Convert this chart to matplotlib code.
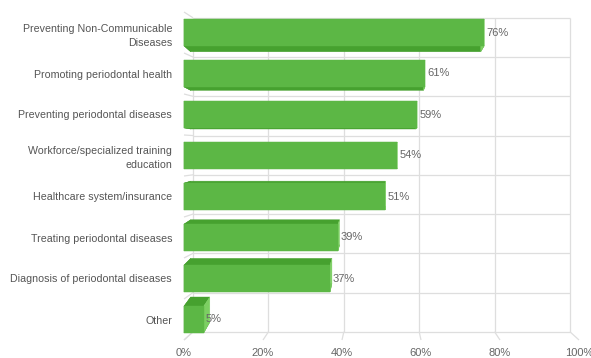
import matplotlib
matplotlib.use("Agg")
import matplotlib.pyplot as plt
from matplotlib.patches import Polygon

# Survey answers (share of respondents, %)
categories = [
    "Preventing Non-Communicable\nDiseases",
    "Promoting periodontal health",
    "Preventing periodontal diseases",
    "Workforce/specialized training\neducation",
    "Healthcare system/insurance",
    "Treating periodontal diseases",
    "Diagnosis of periodontal diseases",
    "Other",
]
values = [76, 61, 59, 54, 51, 39, 37, 5]
x_ticks = [0, 20, 40, 60, 80, 100]
x_tick_labels = ["0%", "20%", "40%", "60%", "80%", "100%"]

plt.rcParams["font.family"] = ["Liberation Sans", "DejaVu Sans"]

W, H, DPI = 591, 358, 100
fig = plt.figure(figsize=(W / DPI, H / DPI), dpi=DPI)
left_px, right_px, top_px, bottom_px = 184, 579, 12, 340
ax = fig.add_axes([left_px / W, (H - bottom_px) / H,
                   (right_px - left_px) / W, (bottom_px - top_px) / H])

n = len(categories)
y_lo, y_hi = -0.5, n - 0.5
ax.set_xlim(0, 100)
ax.set_ylim(y_hi, y_lo)

# simple perspective: points recede toward a vanishing point in data space
VP = (50.1, 2.82)


def project(x, y, kx, ky):
    return (x + kx * (VP[0] - x), y + ky * (VP[1] - y))


WALL = (0.046, 0.043)   # depth of the back wall
BAR = (0.034, 0.058)    # depth of the bars

grid_kw = dict(color="#dedede", lw=0.9, clip_on=False, zorder=1,
               solid_capstyle="butt")


def seg(p, q):
    ax.plot([p[0], q[0]], [p[1], q[1]], **grid_kw)


# back wall: vertical grid lines
for t in x_ticks:
    seg(project(t, y_lo, *WALL), project(t, y_hi, *WALL))
# back wall: horizontal category separators
for i in range(n + 1):
    yb = y_lo + i
    seg(project(0, yb, *WALL), project(100, yb, *WALL))
    # left side wall: receding lines
    seg((0, yb), project(0, yb, *WALL))
# floor: receding lines under each tick
for t in x_ticks:
    seg((t, y_hi), project(t, y_hi, *WALL))

# bars
front_c = "#5cb745"
dark_c = "#46a12f"
light_c = "#7ccf62"
half = 0.325
for i, v in enumerate(values):
    y0, y1 = i - half, i + half
    fl, fr = (0, y0), (v, y0)
    bl, br = (0, y1), (v, y1)
    bfl, bfr = project(0, y0, *BAR), project(v, y0, *BAR)
    bbl, bbr = project(0, y1, *BAR), project(v, y1, *BAR)
    faces = [
        ([fl, fr, bfr, bfl], dark_c),     # top
        ([bl, br, bbr, bbl], dark_c),     # bottom
        ([fr, br, bbr, bfr], light_c),    # right end
        ([fl, bl, bbl, bfl], dark_c),     # left end
    ]
    for pts, c in faces:
        ax.add_patch(Polygon(pts, closed=True, facecolor=c, edgecolor=c,
                             lw=0.3, zorder=3, clip_on=False))
    ax.add_patch(Polygon([fl, fr, br, bl], closed=True, facecolor=front_c,
                         edgecolor=front_c, lw=0.3, zorder=4, clip_on=False))
    ax.annotate(f"{v}%", xy=(v, i), xytext=(1.6, 0), textcoords="offset points",
                ha="left", va="center", fontsize=8, color="#666666", zorder=5)

for s in ax.spines.values():
    s.set_visible(False)
ax.set_yticks(range(n))
ax.set_yticklabels(categories, fontsize=7.7, color="#555555", linespacing=1.5)
ax.set_xticks(x_ticks)
ax.set_xticklabels(x_tick_labels, fontsize=8, color="#666666")
ax.tick_params(axis="y", length=0, pad=8.6)
ax.tick_params(axis="x", length=0, pad=5.5)
ax.patch.set_alpha(0)

fig.savefig("out.png", dpi=DPI, facecolor="white")
